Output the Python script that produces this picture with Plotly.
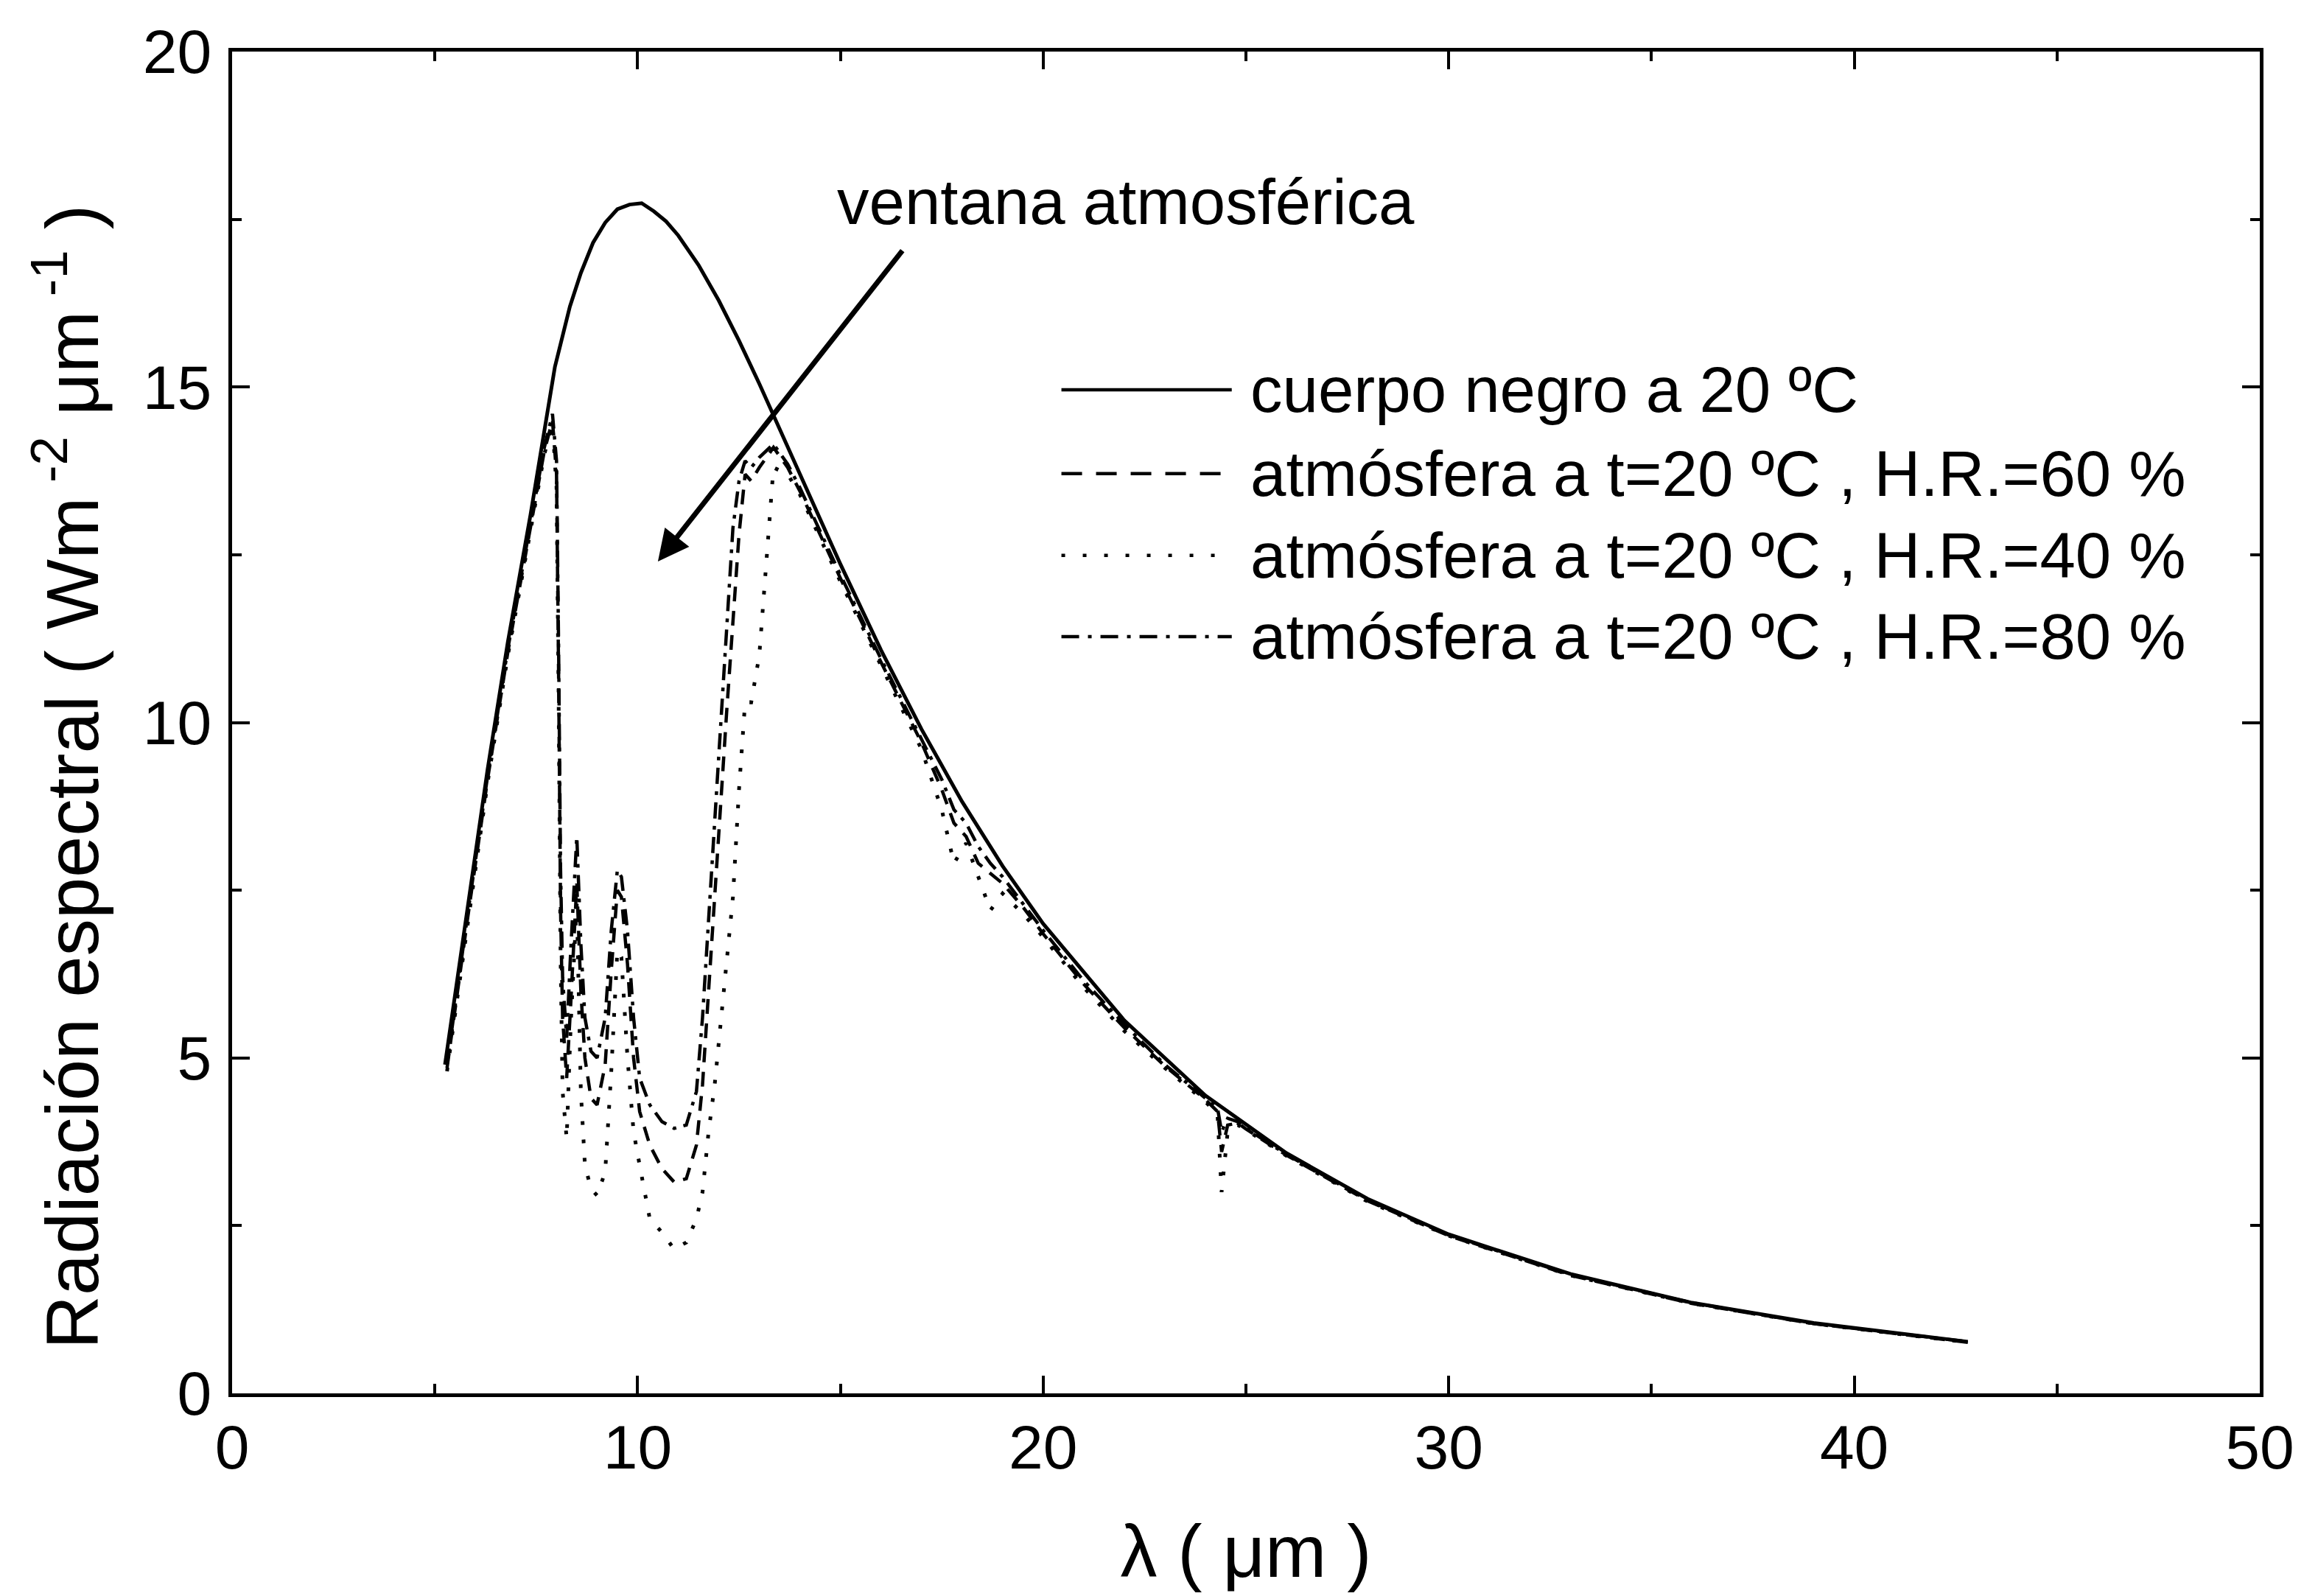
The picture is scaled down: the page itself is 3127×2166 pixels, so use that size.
import plotly.graph_objects as go

# ---------------- data ----------------
x_bb = [5.25, 5.8, 6.3, 6.8, 7.36, 7.96, 8.33, 8.6, 8.9, 9.2, 9.5, 9.8, 10.1, 10.4, 10.7,
        11.0, 11.5, 12.0, 12.5, 13.0, 14.0, 15.0, 16.0, 17.0, 18.0, 19.0, 20.0, 22.0,
        24.0, 26.0, 28.0, 30.0, 33.0, 36.0, 39.0, 42.8]
y_bb = [4.9, 7.2, 9.3, 11.2, 13.1, 15.3, 16.2, 16.7, 17.15, 17.45, 17.65, 17.72, 17.74, 17.62, 17.47,
        17.26, 16.82, 16.29, 15.69, 15.05, 13.71, 12.36, 11.08, 9.90, 8.82, 7.86, 7.00, 5.56,
        4.44, 3.58, 2.90, 2.37, 1.78, 1.35, 1.05, 0.77]

x_atm = [5.3, 5.8, 6.3, 6.8, 7.4, 7.7, 7.9, 8.0, 8.05, 8.1, 8.15, 8.25, 8.35, 8.5, 8.6,
         8.7, 8.85, 9.0, 9.2, 9.35, 9.5, 9.6, 9.75, 9.9, 10.05, 10.3, 10.6, 10.9, 11.2,
         11.45, 11.6, 11.75, 11.9, 12.05, 12.2, 12.35, 12.5, 12.65, 12.8, 13.0, 13.35,
         13.7, 14.0, 15.0, 16.0, 17.0, 17.5, 17.8, 18.1, 18.4, 18.7, 19.0, 19.5, 20.0,
         21.0, 22.0, 23.0, 24.0, 24.3, 24.4, 24.55, 24.8, 25.0, 26.0, 28.0, 30.0, 33.0,
         36.0, 39.0, 42.8]

y_hr60 = [4.85, 7.05, 9.15, 11.05, 13.05, 14.05, 14.5, 13.7, 10.8, 7.2, 5.6, 4.7, 5.8, 7.6, 6.0,
          5.0, 4.4, 4.3, 4.9, 6.3, 7.5, 7.4, 6.4, 5.0, 4.2, 3.7, 3.35, 3.15, 3.2,
          3.7, 4.6, 6.0, 7.4, 8.9, 10.2, 11.5, 12.8, 13.7, 13.6, 13.8, 14.1,
          13.8, 13.45, 12.15, 10.9, 9.7, 9.0, 8.5, 8.3, 7.9, 7.75, 7.6, 7.25, 6.85,
          6.1, 5.45, 4.88, 4.38, 4.2, 3.6, 4.0, 4.03, 3.94, 3.55, 2.87, 2.35, 1.76,
          1.34, 1.04, 0.76]

y_hr40 = [4.8, 7.0, 9.1, 11.0, 13.0, 14.0, 14.45, 13.5, 10.5, 6.5, 4.5, 3.8, 5.5, 7.3, 4.5,
          3.4, 3.05, 2.95, 3.3, 4.8, 6.6, 6.5, 5.0, 3.9, 3.4, 2.6, 2.4, 2.15, 2.25,
          2.6, 3.0, 3.9, 4.6, 5.5, 6.5, 7.4, 9.0, 10.3, 10.3, 11.0, 13.8,
          13.7, 13.4, 12.1, 10.85, 9.6, 8.7, 7.9, 8.2, 7.7, 7.2, 7.45, 7.15, 6.8,
          6.05, 5.4, 4.85, 4.35, 4.15, 3.0, 3.9, 4.0, 3.93, 3.54, 2.86, 2.35, 1.76,
          1.34, 1.04, 0.76]

y_hr80 = [4.9, 7.1, 9.2, 11.1, 13.1, 14.1, 14.6, 13.9, 11.2, 7.8, 6.2, 5.3, 6.6, 8.3, 6.7,
          5.6, 5.1, 5.0, 5.6, 6.9, 7.8, 7.7, 6.9, 5.6, 4.7, 4.3, 4.05, 3.95, 4.0,
          4.5, 5.6, 7.1, 8.6, 10.1, 11.6, 12.9, 13.6, 13.9, 13.8, 13.95, 14.15,
          13.85, 13.5, 12.2, 10.95, 9.75, 9.15, 8.7, 8.5, 8.15, 7.9, 7.7, 7.3, 6.9,
          6.15, 5.5, 4.9, 4.4, 4.25, 3.9, 4.1, 4.05, 3.95, 3.56, 2.88, 2.36, 1.77,
          1.35, 1.04, 0.77]

series_names = ["cuerpo negro a 20 ºC",
                "atmósfera a t=20 ºC , H.R.=60 %",
                "atmósfera a t=20 ºC , H.R.=40 %",
                "atmósfera a t=20 ºC , H.R.=80 %"]

x_ticks = [0, 10, 20, 30, 40, 50]
y_ticks = [0, 5, 10, 15, 20]

# ---------------- styles ----------------
FONT = "Liberation Sans, Arial, Helvetica, sans-serif"
curve_styles = [
    dict(color="black", width=5, dash="solid"),
    dict(color="black", width=4.5, dash="20px,13px"),
    dict(color="black", width=5, dash="5px,20px"),
    dict(color="black", width=4.5, dash="22px,10px,5px,10px"),
]
legend_dash = ["solid", "28px,19px", "5px,24px", "24px,12px,5px,12px"]

fig = go.Figure()
fig.add_trace(go.Scatter(x=x_bb, y=y_bb, mode="lines", name=series_names[0],
                         line=curve_styles[0], showlegend=False))
for name, ys, st in zip(series_names[1:], [y_hr60, y_hr40, y_hr80], curve_styles[1:]):
    fig.add_trace(go.Scatter(x=x_atm, y=ys, mode="lines", name=name,
                             line=st, showlegend=False))

# custom legend (long line samples as in the original)
leg_y = [0.748, 0.6855, 0.6245, 0.564]
for name, dsh, yy in zip(series_names, legend_dash, leg_y):
    fig.add_shape(type="line", xref="paper", yref="paper",
                  x0=0.409, x1=0.493, y0=yy, y1=yy,
                  line=dict(color="black", width=4.5, dash=dsh))
    fig.add_annotation(xref="paper", yref="paper", x=0.5015, y=yy,
                       text=name, showarrow=False, xanchor="left", yanchor="middle",
                       font=dict(family=FONT, size=87, color="black"))

# annotation with arrow
fig.add_annotation(x=22.04, y=17.77, xref="x", yref="y", text="ventana atmosférica",
                   showarrow=False, font=dict(family=FONT, size=87, color="black"))
fig.add_annotation(x=10.5, y=12.4, xref="x", yref="y", ax=16.55, ay=17.05,
                   axref="x", ayref="y", text="", showarrow=True,
                   arrowhead=2, arrowsize=1.2, arrowwidth=7, arrowcolor="black")

# y axis title (placed as in the original)
fig.add_annotation(xref="paper", yref="paper", x=-0.0818, y=0.4596,
                   text="Radiación espectral ( Wm<sup> -2</sup> μm<sup> -1</sup> )",
                   textangle=-90, showarrow=False, xanchor="center", yanchor="middle",
                   font=dict(family=FONT, size=101, color="black"))

axis_common = dict(showline=True, linecolor="black", linewidth=5, mirror="ticks",
                   ticks="inside", ticklen=24, tickwidth=4, tickcolor="black",
                   showgrid=False, zeroline=False,
                   tickfont=dict(family=FONT, size=84, color="black"))

fig.update_xaxes(range=[0, 50], tickvals=x_ticks,
                 minor=dict(dtick=5, ticks="inside", ticklen=13, tickwidth=4,
                            tickcolor="black", showgrid=False),
                 ticklabelstandoff=-4,
                 title=dict(text="λ ( μm )", font=dict(family=FONT, size=100, color="black"),
                            standoff=62),
                 **axis_common)
fig.update_yaxes(range=[0, 20], tickvals=y_ticks,
                 minor=dict(dtick=2.5, ticks="inside", ticklen=13, tickwidth=4,
                            tickcolor="black", showgrid=False),
                 ticklabelstandoff=6,
                 **axis_common)

fig.update_layout(width=3127, height=2166,
                  margin=dict(l=315, r=60, t=70, b=275, autoexpand=False),
                  paper_bgcolor="white", plot_bgcolor="white",
                  showlegend=False)

fig.write_html("out.html")
